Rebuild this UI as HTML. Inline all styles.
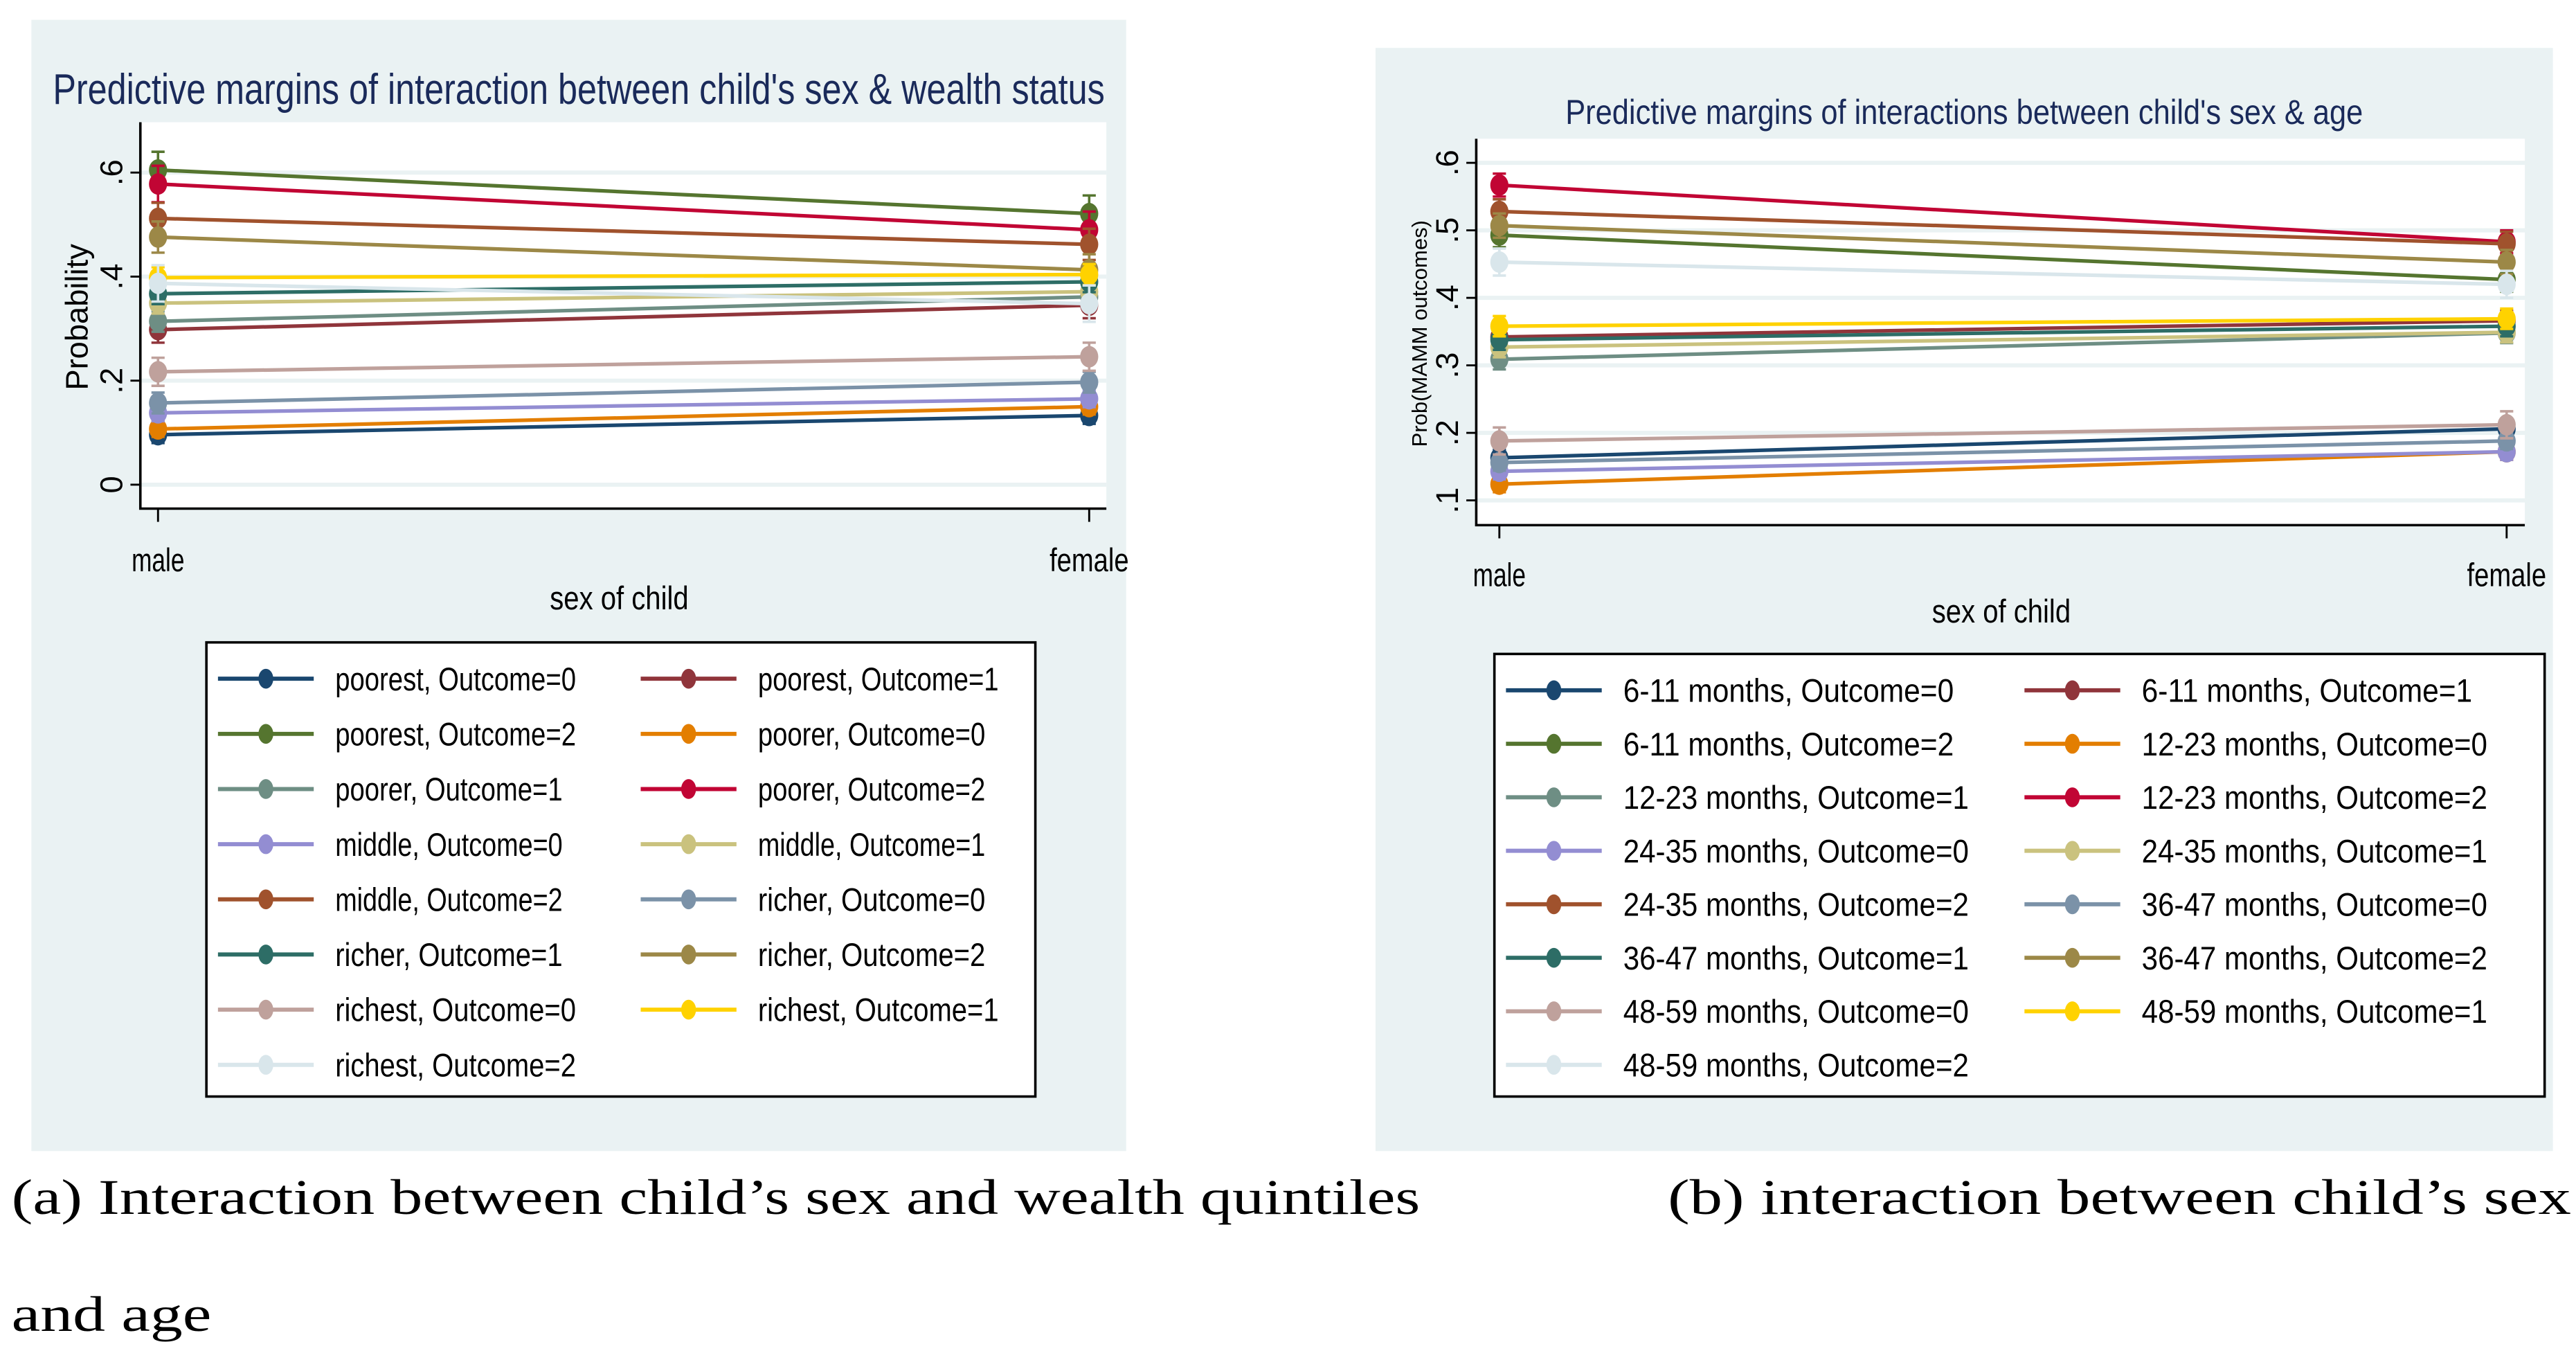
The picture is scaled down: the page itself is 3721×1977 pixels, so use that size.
<!DOCTYPE html>
<html><head><meta charset="utf-8">
<style>
html,body{margin:0;padding:0;background:#fff;}
svg{display:block;}
text{font-family:"Liberation Sans Narrow","Liberation Sans",sans-serif;}
.cap{font-family:"Liberation Serif",serif;}
</style></head>
<body>
<svg id="fig" xmlns="http://www.w3.org/2000/svg" width="3721" height="1977" viewBox="0 0 1560 829" preserveAspectRatio="none">
  <rect x="19" y="12" width="663" height="685" fill="#eaf2f3"/>
  <rect x="833" y="29" width="713" height="668" fill="#eaf2f3"/>
  <text x="32" y="63" font-size="26" fill="#1a2a5a" textLength="637" lengthAdjust="spacingAndGlyphs">Predictive margins of interaction between child's sex &amp; wealth status</text>
  <text x="948" y="75" font-size="21" fill="#1a2a5a" textLength="483" lengthAdjust="spacingAndGlyphs">Predictive margins of interactions between child's sex &amp; age</text>
  <g id="pa"></g>
  <g id="pb"></g>
  <text class="cap" x="7" y="735" font-size="30" fill="#000" textLength="853" lengthAdjust="spacingAndGlyphs">(a) Interaction between child’s sex and wealth quintiles</text>
  <text class="cap" x="1010" y="735" font-size="30" fill="#000" textLength="547" lengthAdjust="spacingAndGlyphs">(b) interaction between child’s sex</text>
  <text class="cap" x="7" y="806" font-size="30" fill="#000" textLength="121" lengthAdjust="spacingAndGlyphs">and age</text>
</svg>
<script>
const NS="http://www.w3.org/2000/svg";
const colors=["#1a476f","#90353b","#55752f","#e37e00","#6e8e84","#c10534","#938dd2","#cac27e","#a0522d","#7b92a8","#2d6d66","#9c8847","#bfa19c","#ffd200","#d9e6eb"];
const xCats=["male","female"];
// Panel A data
const aLabels=["poorest, Outcome=0","poorest, Outcome=1","poorest, Outcome=2","poorer, Outcome=0","poorer, Outcome=1","poorer, Outcome=2","middle, Outcome=0","middle, Outcome=1","middle, Outcome=2","richer, Outcome=0","richer, Outcome=1","richer, Outcome=2","richest, Outcome=0","richest, Outcome=1","richest, Outcome=2"];
const aMale=[0.096,0.298,0.605,0.107,0.314,0.578,0.138,0.349,0.512,0.157,0.367,0.476,0.217,0.398,0.387];
const aFemale=[0.133,0.345,0.521,0.150,0.361,0.490,0.165,0.371,0.462,0.197,0.390,0.413,0.246,0.404,0.348];
const aErr=[0.016,0.025,0.035,0.015,0.02,0.035,0.016,0.02,0.03,0.02,0.02,0.03,0.027,0.02,0.035];
const aTicks=[0,0.2,0.4,0.6];
const aTickLabels=["0",".2",".4",".6"];
// Panel B data
const bLabels=["6-11 months, Outcome=0","6-11 months, Outcome=1","6-11 months, Outcome=2","12-23 months, Outcome=0","12-23 months, Outcome=1","12-23 months, Outcome=2","24-35 months, Outcome=0","24-35 months, Outcome=1","24-35 months, Outcome=2","36-47 months, Outcome=0","36-47 months, Outcome=1","36-47 months, Outcome=2","48-59 months, Outcome=0","48-59 months, Outcome=1","48-59 months, Outcome=2"];
const bMale=[0.163,0.342,0.493,0.124,0.309,0.567,0.143,0.327,0.528,0.156,0.338,0.507,0.188,0.358,0.453];
const bFemale=[0.206,0.366,0.427,0.172,0.348,0.483,0.172,0.349,0.480,0.188,0.358,0.453,0.212,0.369,0.420];
const bErr=[0.012,0.015,0.018,0.012,0.015,0.017,0.012,0.015,0.018,0.012,0.015,0.018,0.02,0.015,0.02];
const bTicks=[0.1,0.2,0.3,0.4,0.5,0.6];
const bTickLabels=[".1",".2",".3",".4",".5",".6"];

function mk(parent,tag,attrs){const e=document.createElementNS(NS,tag);for(const k in attrs)e.setAttribute(k,attrs[k]);parent.appendChild(e);return e;}

function panel(g,cfg,labels,male,female,err,ticks,tickLabels){
  const yS=v=>cfg.y0+(v-cfg.v0)*(cfg.y1-cfg.y0)/(cfg.v1-cfg.v0);
  const xS=i=>cfg.xm+i*(cfg.xf-cfg.xm);
  const plot=mk(g,"rect",{x:cfg.px,y:cfg.pt,width:cfg.pr-cfg.px,height:cfg.pb-cfg.pt,fill:"#fff"});
  
  
  ticks.forEach((t,i)=>{
    const gl=mk(g,"line",{x1:cfg.px,x2:cfg.pr,y1:yS(t),y2:yS(t),stroke:"#eaf2f3","stroke-width":2.5});
    
    
    const tk=mk(g,"line",{x1:cfg.px-6,x2:cfg.px,y1:yS(t),y2:yS(t),stroke:"#000","stroke-width":1.2});
    
    
    const tl=mk(g,"text",{x:0,y:0,"font-size":cfg.tfs,"text-anchor":"middle",transform:`translate(${cfg.px-11},${yS(t)}) rotate(-90)`,style:"font-family:'Liberation Sans',sans-serif"});
    tl.textContent=tickLabels[i];
    
    
  });
  const ax=mk(g,"path",{d:`M${cfg.px},${cfg.pt} V${cfg.pb} H${cfg.pr}`,stroke:"#000","stroke-width":1.5,fill:"none"});
  
  
  xCats.forEach((c,i)=>{
    const tk=mk(g,"line",{x1:xS(i),x2:xS(i),y1:cfg.pb,y2:cfg.pb+8,stroke:"#000","stroke-width":1.2});
    
    
    const tl=mk(g,"text",{x:xS(i),y:cfg.xly,"font-size":20,"text-anchor":"middle",textLength:c.length*8,lengthAdjust:"spacingAndGlyphs"});
    tl.textContent=c;
    
    
  });
  const xt=mk(g,"text",{x:cfg.xtx,y:cfg.xty,"font-size":20,"text-anchor":"middle",textLength:84,lengthAdjust:"spacingAndGlyphs"});
  xt.textContent="sex of child";
  
  
  const yt=mk(g,"text",{x:0,y:0,"font-size":cfg.ytfs,"text-anchor":"middle",transform:`translate(${cfg.ytx},${cfg.yty}) rotate(-90)`,style:"font-family:'Liberation Sans',sans-serif"});
  yt.textContent=cfg.ytitle;
  
  
  labels.forEach((lab,i)=>{
    const s=mk(g,"g",{});
    
    
    const vals=[male[i],female[i]];
    const ln=mk(s,"line",{x1:xS(0),y1:yS(vals[0]),x2:xS(1),y2:yS(vals[1]),stroke:colors[i],"stroke-width":2.2});
    
    
    vals.forEach((v,j)=>{
      const ya=yS(v+err[i]),yb=yS(v-err[i]);
      const eb=mk(s,"path",{d:`M${xS(j)},${ya} V${yb} M${xS(j)-4},${ya} H${xS(j)+4} M${xS(j)-4},${yb} H${xS(j)+4}`,stroke:colors[i],"stroke-width":1.5,fill:"none"});
      
      
      const pt=mk(s,"ellipse",{cx:xS(j),cy:yS(v),rx:5.5,ry:6.5,fill:colors[i]});
      
      
    });
  });
  const lb=mk(g,"rect",{x:cfg.lx,y:cfg.ly,width:cfg.lw,height:cfg.lh,fill:"#fff",stroke:"#000","stroke-width":1.5});
  
  
  labels.forEach((lab,i)=>{
    const col=i%2,row=Math.floor(i/2);
    const x0=cfg.lx+7+col*cfg.lcol, y=cfg.ly+22+row*cfg.lrow;
    const e=mk(g,"g",{});
    
    
    mk(e,"line",{x1:x0,x2:x0+58,y1:y,y2:y,stroke:colors[i],"stroke-width":2.5});
    mk(e,"ellipse",{cx:x0+29,cy:y,rx:4.5,ry:6,fill:colors[i]});
    const t=mk(e,"text",{x:x0+71,y:y+7,"font-size":20,textLength:lab.length*cfg.cw,lengthAdjust:"spacingAndGlyphs"});
    t.textContent=lab;
  });
}
panel(document.getElementById("pa"),{px:85,pr:670,pt:74,pb:308,xm:95.7,xf:659.6,v0:0,v1:0.6,y0:293.5,y1:104.5,tfs:19,xly:346,xtx:375,xty:369,ytitle:"Probability",ytfs:19,ytx:53,yty:192,lx:125,ly:389,lw:502,lh:275,lcol:256,lrow:33.4,cw:8.1},aLabels,aMale,aFemale,aErr,aTicks,aTickLabels);
panel(document.getElementById("pb"),{px:894,pr:1529,pt:84,pb:318,xm:908,xf:1518,v0:0.1,v1:0.6,y0:303,y1:98.6,tfs:19,xly:355,xtx:1212,xty:377,ytitle:"Prob(MAMM outcomes)",ytfs:13,ytx:864,yty:202,lx:905,ly:396,lw:636,lh:268,lcol:314,lrow:32.4,cw:9.1},bLabels,bMale,bFemale,bErr,bTicks,bTickLabels);
</script>
</body></html>
